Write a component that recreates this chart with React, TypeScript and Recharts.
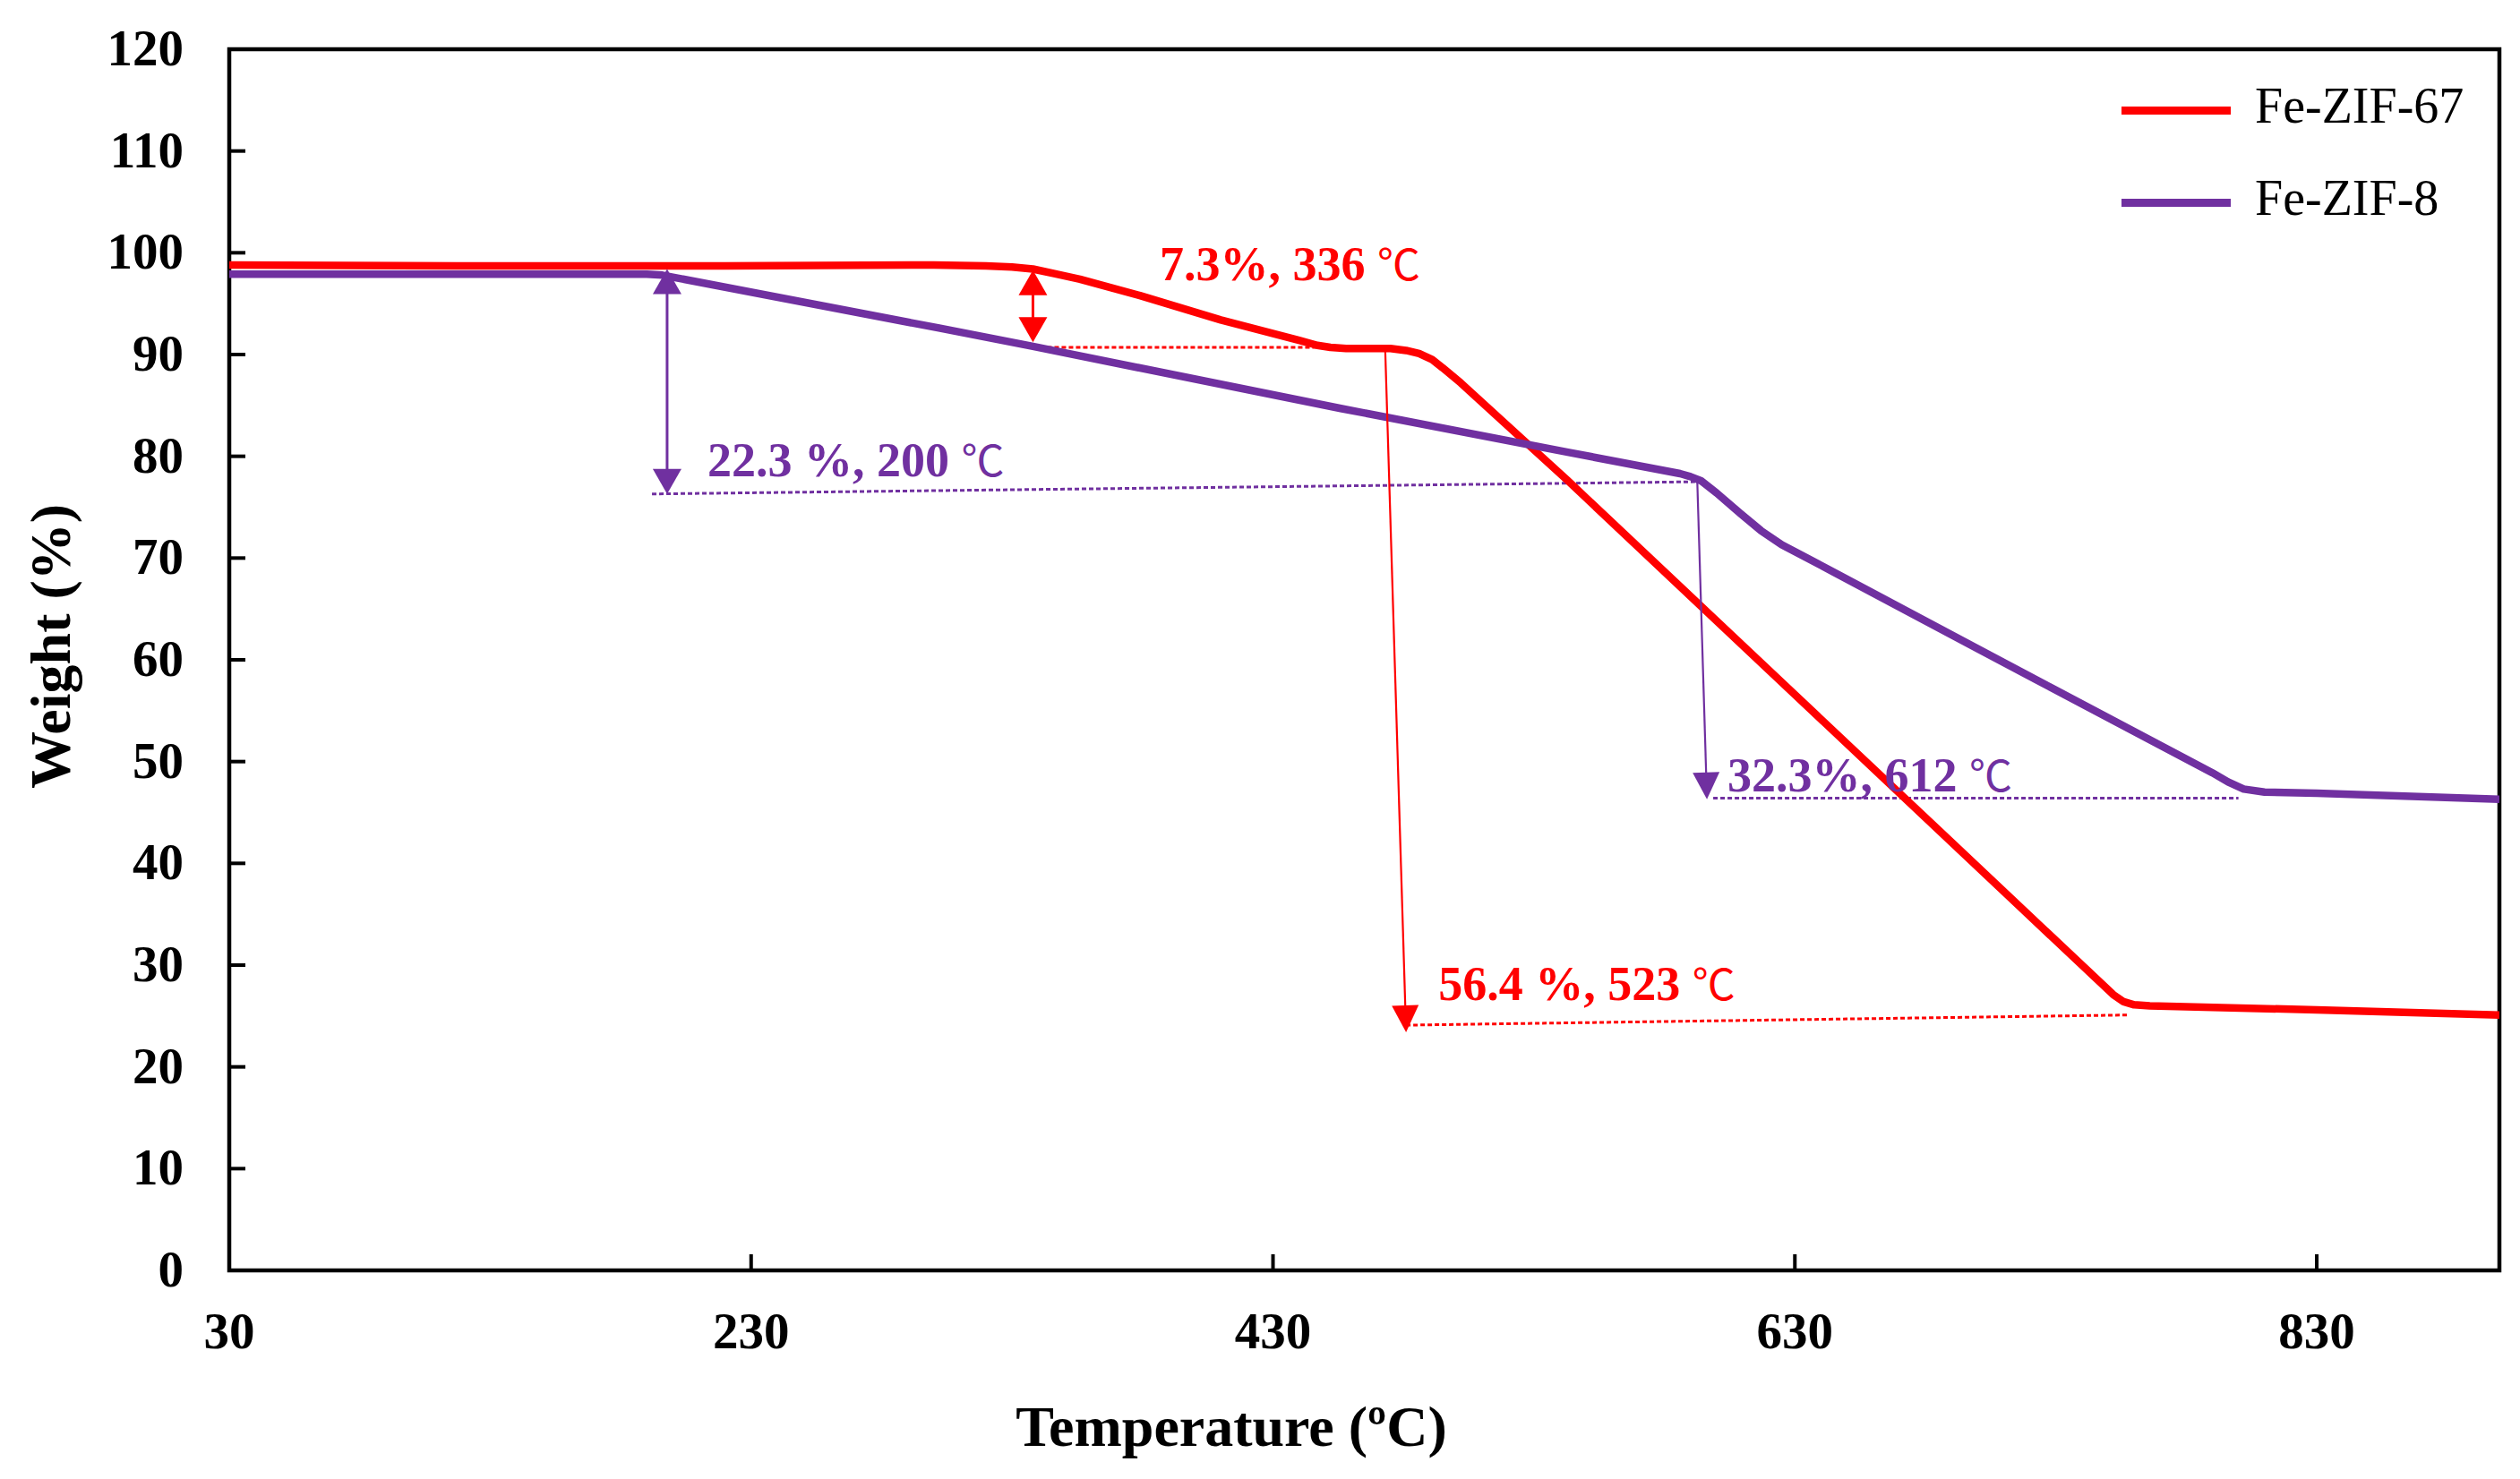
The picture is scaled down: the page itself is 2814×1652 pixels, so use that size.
import React from 'react';
import {
  LineChart,
  Line,
  XAxis,
  YAxis,
  ReferenceLine,
  ReferenceDot,
  ReferenceArea,
  Legend,
} from 'recharts';

const FONT = '"Liberation Serif", "Times New Roman", serif';
const RED = '#FF0000';
const PURPLE = '#7030A0';

// axis ticks
const xTicks = [30, 230, 430, 630, 830];
const yTicks = [0, 10, 20, 30, 40, 50, 60, 70, 80, 90, 100, 110, 120];

// Fe-ZIF-67 (red)
const zif67Temp = [30, 120, 220, 300, 320, 330, 338, 347, 356, 379, 410, 440, 447, 452, 458, 475, 481, 486, 491, 495, 502, 543, 692, 752, 756, 760, 766, 830, 900];
const zif67Weight = [98.8, 98.7, 98.7, 98.8, 98.7, 98.6, 98.4, 97.9, 97.4, 95.8, 93.4, 91.4, 90.9, 90.7, 90.6, 90.6, 90.4, 90.1, 89.5, 88.7, 87.2, 77.6, 41.6, 27.1, 26.4, 26.1, 26.0, 25.6, 25.1];

// Fe-ZIF-8 (purple)
const zif8Temp = [30, 120, 190, 196, 200, 302, 338, 456, 543, 586, 590, 594, 600, 609, 617, 625, 634, 645, 700, 753, 790, 796, 802, 810, 830, 900];
const zif8Weight = [97.9, 97.9, 97.9, 97.8, 97.6, 92.6, 90.8, 84.7, 80.4, 78.3, 78.0, 77.6, 76.4, 74.4, 72.7, 71.3, 70.1, 68.6, 61.1, 53.9, 48.9, 48.0, 47.3, 47.0, 46.9, 46.3];

// annotations
const doubleArrows = [
  { x: 338, yTop: 98.3, yBottom: 91.2, color: RED },
  { x: 197.8, yTop: 98.4, yBottom: 76.3, color: PURPLE },
];
const dropArrows = [
  { x1: 473, y1: 90.5, x2: 481, y2: 23.4, color: RED },
  { x1: 592.6, y1: 77.5, x2: 596.3, y2: 46.3, color: PURPLE },
];
const dottedGuides = [
  { x1: 338, y1: 90.7, x2: 450, y2: 90.7, color: RED },
  { x1: 192, y1: 76.3, x2: 593, y2: 77.5, color: PURPLE },
  { x1: 481, y1: 24.1, x2: 758, y2: 25.1, color: RED },
  { x1: 598.7, y1: 46.4, x2: 800, y2: 46.4, color: PURPLE },
];
const annotationLabels = [
  { x: 386.6, y: 97.3, text: '7.3%, 336\u00A0', color: RED },
  { x: 213.3, y: 78.0, text: '22.3 %, 200\u00A0', color: PURPLE },
  { x: 493.4, y: 26.6, text: '56.4 %, 523\u00A0', color: RED },
  { x: 604.2, y: 47.1, text: '32.3%, 612\u00A0', color: PURPLE },
];

const zif67Data = zif67Temp.map((t, i) => ({ t, w: zif67Weight[i] }));
const zif8Data = zif8Temp.map((t, i) => ({ t, w: zif8Weight[i] }));

const head = (tx: number, ty: number, ux: number, uy: number, len: number, half: number) => {
  const bx = tx - ux * len;
  const by = ty - uy * len;
  const px = -uy;
  const py = ux;
  return `${tx},${ty} ${bx + px * half},${by + py * half} ${bx - px * half},${by - py * half}`;
};

const makeArrow = (color: string, both: boolean, width: number, len: number, half: number) => (props: any) => {
  const { x1, y1, x2, y2 } = props;
  const dx = x2 - x1;
  const dy = y2 - y1;
  const l = Math.hypot(dx, dy) || 1;
  const ux = dx / l;
  const uy = dy / l;
  const sx = both ? x1 + ux * len * 0.9 : x1;
  const sy = both ? y1 + uy * len * 0.9 : y1;
  const ex = x2 - ux * len * 0.9;
  const ey = y2 - uy * len * 0.9;
  return (
    <g>
      <line x1={sx} y1={sy} x2={ex} y2={ey} stroke={color} strokeWidth={width} />
      <polygon points={head(x2, y2, ux, uy, len, half)} fill={color} />
      {both && <polygon points={head(x1, y1, -ux, -uy, len, half)} fill={color} />}
    </g>
  );
};

const YTick = (props: any) => {
  const { x, y, payload } = props;
  return (
    <g>
      <line x1={x + 51} x2={x + 69} y1={y} y2={y} stroke="#000" strokeWidth={4} />
      <text x={x} y={y} dy={18} textAnchor="end" fontFamily={FONT} fontWeight="bold" fontSize={57} fill="#000">
        {payload.value}
      </text>
    </g>
  );
};

const XTick = (props: any) => {
  const { x, y, payload } = props;
  return (
    <g>
      <line x1={x} x2={x} y1={y} y2={y - 18} stroke="#000" strokeWidth={4} />
      <text x={x} y={y + 87} textAnchor="middle" fontFamily={FONT} fontWeight="bold" fontSize={57} fill="#000">
        {payload.value}
      </text>
    </g>
  );
};

const renderLegend = (props: any) => {
  const items = props.payload || [];
  return (
    <div style={{ fontFamily: FONT, fontSize: 56, color: '#000' }}>
      {items.map((p: any) => (
        <div key={p.value} style={{ display: 'flex', alignItems: 'center', height: 103 }}>
          <div style={{ width: 122, height: 9, background: p.color, marginRight: 27 }} />
          <span style={{ lineHeight: 1, position: 'relative', top: -6, whiteSpace: 'nowrap' }}>{p.value}</span>
        </div>
      ))}
    </div>
  );
};

export default function App() {
  return (
    <div style={{ width: 2798, height: 1636, background: '#fff' }}>
      <LineChart width={2798} height={1636} margin={{ top: 47, right: 15, left: 0, bottom: 0 }}>
        <XAxis
          type="number"
          dataKey="t"
          domain={[30, 900]}
          ticks={xTicks}
          interval={0}
          allowDataOverflow
          axisLine={false}
          tickLine={false}
          tickSize={0}
          tickMargin={0}
          height={225}
          tick={<XTick />}
        />
        <YAxis
          type="number"
          domain={[0, 120]}
          ticks={yTicks}
          interval={0}
          axisLine={false}
          tickLine={false}
          tickSize={0}
          tickMargin={51}
          width={248}
          tick={<YTick />}
        />
        <ReferenceArea x1={30} x2={900} y1={0} y2={120} fill="none" fillOpacity={0} stroke="#000" strokeWidth={4.5} />
        <Legend
          layout="vertical"
          align="center"
          verticalAlign="middle"
          content={renderLegend}
          wrapperStyle={{ left: 2361, top: 64, width: 430, height: 206, bottom: 'auto', right: 'auto' }}
        />
        {dottedGuides.map((g, i) => (
          <ReferenceLine
            key={'g' + i}
            segment={[{ x: g.x1, y: g.y1 }, { x: g.x2, y: g.y2 }]}
            stroke={g.color}
            strokeWidth={3}
            strokeDasharray="5 3"
          />
        ))}
        <Line
          data={zif67Data}
          dataKey="w"
          name="Fe-ZIF-67"
          type="linear"
          stroke={RED}
          strokeWidth={8.5}
          strokeLinejoin="round"
          dot={false}
          activeDot={false}
          isAnimationActive={false}
        />
        <Line
          data={zif8Data}
          dataKey="w"
          name="Fe-ZIF-8"
          type="linear"
          stroke={PURPLE}
          strokeWidth={8.5}
          strokeLinejoin="round"
          dot={false}
          activeDot={false}
          isAnimationActive={false}
        />
        {doubleArrows.map((a, i) => (
          <ReferenceLine
            key={'d' + i}
            segment={[{ x: a.x, y: a.yTop }, { x: a.x, y: a.yBottom }]}
            stroke={a.color}
            shape={makeArrow(a.color, true, 3, 28, 16)}
          />
        ))}
        {dropArrows.map((a, i) => (
          <ReferenceLine
            key={'a' + i}
            segment={[{ x: a.x1, y: a.y1 }, { x: a.x2, y: a.y2 }]}
            stroke={a.color}
            shape={makeArrow(a.color, false, 2.2, 30, 15)}
          />
        ))}
        {annotationLabels.map((l, i) => (
          <ReferenceDot
            key={'l' + i}
            x={l.x}
            y={l.y}
            r={0}
            shape={(p: any) => (
              <text x={p.cx} y={p.cy} fontFamily={FONT} fontWeight="bold" fontSize={54} fill={l.color}>
                {l.text}
                <tspan fontWeight="normal" fontFamily={'"Noto Sans CJK SC", "DejaVu Sans", sans-serif'} fontSize={48}>
                  {'\u2103'}
                </tspan>
              </text>
            )}
          />
        ))}
        <text
          x={1367}
          y={1607}
          textAnchor="middle"
          fontFamily={FONT}
          fontWeight="bold"
          fontSize={64}
          fill="#000"
        >
          Temperature (ºC)
        </text>
        <text
          x={48}
          y={714}
          transform="rotate(-90, 48, 714)"
          textAnchor="middle"
          dominantBaseline="central"
          fontFamily={FONT}
          fontWeight="bold"
          fontSize={64}
          fill="#000"
        >
          Weight (%)
        </text>
      </LineChart>
    </div>
  );
}
